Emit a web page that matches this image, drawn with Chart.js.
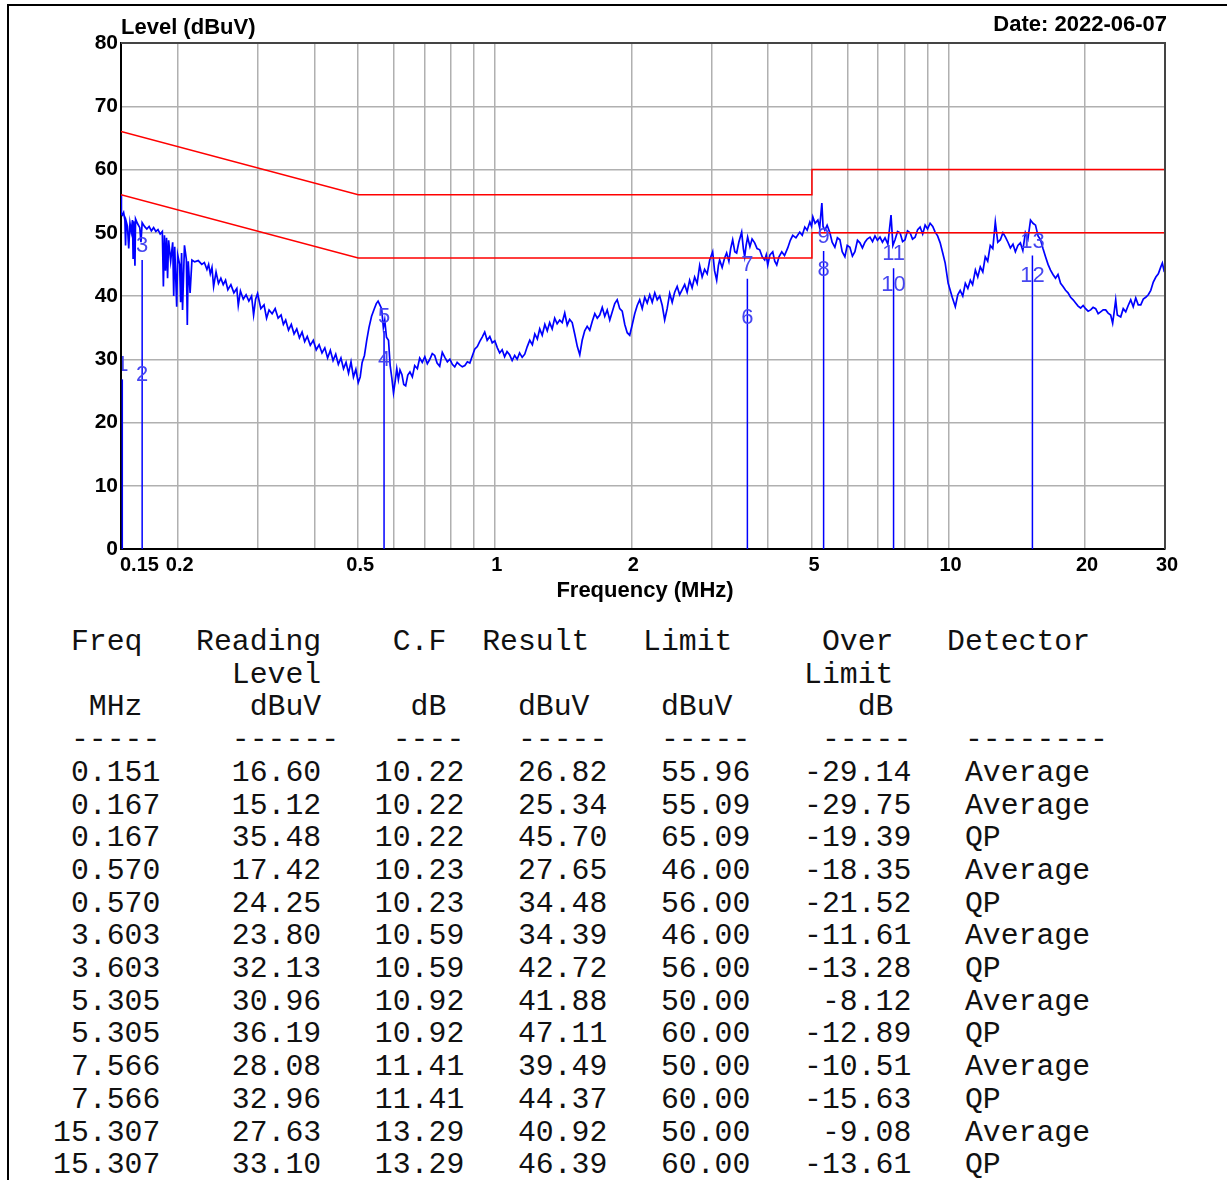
<!DOCTYPE html>
<html>
<head>
<meta charset="utf-8">
<script src="https://cdn.jsdelivr.net/npm/chart.js"></script>
<style>
  body { margin: 0; background: #fff; width: 1227px; height: 1180px; overflow: hidden; position: relative; }
  #frame { position: absolute; left: 7px; top: 4px; width: 1230px; height: 1190px; border-left: 2px solid #000; border-top: 2px solid #000; }
  #c { position: absolute; left: 0; top: 0; }
  #table { position: absolute; left: 53px; top: 626px; margin: 0; font-family: "Courier New", "Liberation Mono", monospace; font-size: 29.8px; line-height: 32.7px; color: #111; }
</style>
</head>
<body>
<div id="frame"></div>
<canvas id="c" width="1227" height="620"></canvas>
<pre id="table"></pre>
<script>
// scan trace (MHz / dBuV)
const traceFreq = [
  0.150,0.1503,0.151,0.152,0.153,0.1535,0.154,0.155,0.156,0.157,
  0.158,0.159,0.1595,0.160,0.161,0.1615,0.163,0.165,0.166,0.167,
  0.169,0.171,0.173,0.175,0.177,0.179,0.181,0.183,0.185,0.186,
  0.187,0.188,0.189,0.190,0.191,0.193,0.195,0.196,0.197,0.199,
  0.200,0.202,0.203,0.204,0.205,0.207,0.209,0.210,0.211,0.213,
  0.215,0.218,0.222,0.226,0.229,0.232,0.234,0.236,0.238,0.240,
  0.243,0.246,0.249,0.252,0.255,0.258,0.262,0.266,0.270,0.272,
  0.275,0.279,0.283,0.287,0.291,0.294,0.297,0.300,0.305,0.310,
  0.314,0.318,0.323,0.328,0.333,0.338,0.342,0.346,0.351,0.356,
  0.361,0.366,0.371,0.376,0.381,0.386,0.392,0.398,0.404,0.410,
  0.416,0.422,0.428,0.434,0.440,0.446,0.452,0.458,0.464,0.470,
  0.476,0.482,0.488,0.494,0.500,0.505,0.510,0.516,0.522,0.528,
  0.535,0.542,0.548,0.553,0.558,0.563,0.568,0.572,0.577,0.583,
  0.588,0.593,0.598,0.603,0.608,0.613,0.618,0.624,0.630,0.636,
  0.643,0.650,0.658,0.666,0.675,0.683,0.692,0.701,0.710,0.719,
  0.728,0.737,0.746,0.756,0.766,0.776,0.786,0.796,0.806,0.816,
  0.826,0.837,0.848,0.859,0.870,0.881,0.892,0.903,0.915,0.926,
  0.938,0.950,0.962,0.975,0.987,1.000,1.013,1.025,1.038,1.051,
  1.064,1.078,1.092,1.106,1.120,1.134,1.149,1.164,1.179,1.194,
  1.210,1.225,1.241,1.256,1.272,1.289,1.305,1.321,1.338,1.355,
  1.372,1.390,1.408,1.426,1.444,1.462,1.481,1.500,1.520,1.539,
  1.558,1.578,1.598,1.619,1.640,1.661,1.682,1.703,1.725,1.747,
  1.769,1.792,1.815,1.838,1.861,1.885,1.909,1.934,1.958,1.983,
  2.009,2.034,2.060,2.086,2.113,2.140,2.167,2.195,2.223,2.252,
  2.280,2.309,2.339,2.368,2.398,2.429,2.460,2.491,2.523,2.555,
  2.588,2.621,2.654,2.688,2.722,2.757,2.792,2.828,2.864,2.900,
  2.938,2.976,3.021,3.050,3.083,3.110,3.130,3.170,3.210,3.243,
  3.280,3.310,3.344,3.380,3.412,3.450,3.500,3.530,3.554,3.580,
  3.608,3.650,3.690,3.739,3.785,3.835,3.885,3.934,3.965,3.995,
  4.040,4.098,4.140,4.182,4.230,4.290,4.350,4.422,4.480,4.536,
  4.610,4.700,4.760,4.822,4.880,4.947,4.990,5.023,5.080,5.152,
  5.200,5.258,5.290,5.339,5.400,5.476,5.540,5.617,5.690,5.762,
  5.830,5.910,5.980,6.062,6.140,6.218,6.300,6.379,6.460,6.543,
  6.620,6.712,6.800,6.885,6.970,7.062,7.150,7.245,7.350,7.469,
  7.540,7.622,7.720,7.819,7.920,8.020,8.120,8.227,8.330,8.439,
  8.550,8.657,8.770,8.880,8.990,9.109,9.230,9.344,9.460,9.585,
  9.710,9.832,9.982,10.19,10.35,10.48,10.61,10.75,10.89,11.03,
  11.17,11.30,11.46,11.60,11.75,11.90,12.05,12.20,12.36,12.52,
  12.68,12.84,13.01,13.18,13.35,13.52,13.69,13.87,14.04,14.22,
  14.40,14.58,14.77,14.96,15.16,15.35,15.55,15.75,15.95,16.15,
  16.36,16.57,16.78,16.99,17.21,17.43,17.66,17.88,18.11,18.34,
  18.58,18.82,19.06,19.30,19.55,19.80,20.05,20.31,20.57,20.83,
  21.10,21.37,21.64,21.92,22.20,22.48,22.77,23.00,23.18,23.36,
  23.55,23.96,24.27,24.58,24.89,25.21,25.53,25.86,26.19,26.53,
  26.87,27.21,27.56,27.91,28.27,28.64,29.00,29.37,29.60,29.90
];
const traceLevel = [
  56.0,53.0,52.8,53.2,52.0,48.0,51.8,51.0,47.5,51.5,
  50.2,52.0,46.0,51.8,44.8,52.2,51.5,50.8,48.5,51.6,
  51.0,50.6,51.0,50.3,50.8,50.2,50.5,49.8,50.2,41.5,
  49.6,44.0,49.2,42.8,48.8,45.5,48.5,40.0,47.8,38.3,
  46.5,45.0,39.0,46.8,37.8,48.0,45.8,35.4,45.5,40.5,
  45.7,45.4,45.6,45.0,45.3,44.2,45.0,43.5,44.5,41.5,
  43.8,42.0,42.8,41.8,42.5,41.0,41.8,40.5,41.2,38.5,
  40.8,39.5,40.2,39.2,40.0,37.0,39.5,40.4,38.0,38.6,
  36.5,37.8,37.2,38.0,36.5,37.0,35.5,36.2,34.6,35.5,
  34.0,34.8,33.4,34.3,32.8,33.6,32.2,33.0,31.5,32.3,
  31.0,31.8,30.2,31.4,29.8,30.8,29.2,30.2,28.5,29.5,
  27.8,29.6,27.2,28.4,26.3,27.2,29.5,30.6,33.0,35.0,
  36.8,37.9,38.8,39.2,38.6,38.0,35.0,36.2,33.5,33.0,
  29.0,27.0,24.7,26.5,28.5,26.8,28.3,27.6,26.0,25.8,
  27.5,28.0,27.2,29.0,28.5,30.2,29.5,30.4,29.3,30.0,
  30.9,30.6,29.4,28.9,31.1,30.3,29.6,30.0,29.2,28.8,
  29.5,29.1,28.8,29.0,29.6,29.4,30.5,31.6,32.0,32.8,
  33.5,34.3,33.0,33.6,32.6,32.9,31.8,31.0,31.5,30.4,
  31.2,30.7,29.8,30.6,30.0,31.0,30.3,30.8,32.0,33.0,
  32.3,34.0,33.2,34.8,33.8,35.5,34.5,35.8,34.8,36.5,
  35.6,36.2,35.8,37.3,35.4,36.3,35.8,34.0,32.0,30.7,
  33.0,34.5,35.2,34.6,36.0,37.2,36.5,37.0,38.2,36.8,
  37.8,36.2,37.5,38.8,39.4,38.0,37.6,35.5,34.2,33.8,
  35.5,37.2,38.5,39.4,38.0,39.8,38.9,40.2,39.0,40.5,
  39.4,40.0,38.5,36.2,38.0,40.4,39.0,40.6,41.5,40.2,
  41.0,41.8,40.6,42.5,41.3,43.0,42.0,44.8,43.0,44.2,
  43.5,45.7,47.0,44.0,42.5,44.8,45.7,44.5,46.0,46.8,
  45.5,47.5,48.9,47.0,46.8,48.5,50.1,47.5,46.2,48.0,
  49.3,47.8,49.0,48.4,47.5,47.3,46.2,45.7,46.5,44.9,
  46.5,47.0,45.5,44.9,46.2,47.0,46.4,47.6,48.8,49.6,
  49.2,50.1,49.6,50.9,50.4,51.7,51.0,52.5,51.5,52.0,
  50.8,54.7,51.0,50.4,51.2,50.0,48.5,47.7,49.2,48.9,
  47.0,46.2,48.0,47.7,46.3,47.0,48.8,48.4,47.6,48.5,
  49.0,49.3,48.6,49.5,48.8,49.3,48.5,49.2,48.2,52.8,
  48.0,48.9,50.2,50.0,48.6,48.9,50.3,50.0,49.0,49.3,
  50.5,50.9,49.8,51.2,50.6,51.5,51.0,50.1,49.5,48.4,
  46.8,45.2,42.0,39.8,38.3,40.2,40.9,40.0,42.0,41.2,
  42.5,41.8,44.1,43.0,44.6,43.8,46.2,45.5,48.0,47.5,
  51.7,48.5,48.9,50.0,49.3,48.5,47.6,48.2,47.0,48.0,
  48.4,47.2,50.0,49.0,52.0,51.5,51.2,49.5,48.9,47.5,
  46.2,45.0,44.1,43.4,42.8,43.4,42.0,41.5,40.9,40.5,
  39.8,39.4,38.9,38.4,38.1,38.5,38.0,37.6,37.8,38.2,
  38.0,37.2,37.5,37.8,37.8,37.3,37.0,35.7,37.5,39.4,
  37.0,36.7,38.0,37.5,38.5,39.4,38.3,39.7,38.6,38.6,
  39.5,39.8,40.2,40.9,42.2,43.0,43.5,44.6,45.2,43.8
];

// limit lines (QP upper, Average lower)
const limitFreq = [0.15, 0.5, 5, 5, 30];
const limitQP   = [66, 56, 56, 60, 60];
const limitAvg  = [56, 46, 46, 50, 50];

// final measurement table
const tableFreq     = [0.151, 0.167, 0.167, 0.570, 0.570, 3.603, 3.603, 5.305, 5.305, 7.566, 7.566, 15.307, 15.307];
const tableReading  = [16.60, 15.12, 35.48, 17.42, 24.25, 23.80, 32.13, 30.96, 36.19, 28.08, 32.96, 27.63, 33.10];
const tableCF       = [10.22, 10.22, 10.22, 10.23, 10.23, 10.59, 10.59, 10.92, 10.92, 11.41, 11.41, 13.29, 13.29];
const tableResult   = [26.82, 25.34, 45.70, 27.65, 34.48, 34.39, 42.72, 41.88, 47.11, 39.49, 44.37, 40.92, 46.39];
const tableLimit    = [55.96, 55.09, 65.09, 46.00, 56.00, 46.00, 56.00, 50.00, 60.00, 50.00, 60.00, 50.00, 60.00];
const tableOver     = [-29.14, -29.75, -19.39, -18.35, -21.52, -11.61, -13.28, -8.12, -12.89, -10.51, -15.63, -9.08, -13.61];
const tableDetector = ['Average', 'Average', 'QP', 'Average', 'QP', 'Average', 'QP', 'Average', 'QP', 'Average', 'QP', 'Average', 'QP'];

const xGrid   = [0.2, 0.3, 0.4, 0.5, 0.6, 0.7, 0.8, 0.9, 1, 2, 3, 4, 5, 6, 7, 8, 9, 10, 20];
const xLabels = [0.15, 0.2, 0.5, 1, 2, 5, 10, 20, 30];

const SANS = '"Liberation Sans", Arial, sans-serif';

// vertical marker lines, one per measured frequency, up to the highest result
const markerTop = {};
tableFreq.forEach((f, i) => { markerTop[f] = Math.max(markerTop[f] || 0, tableResult[i]); });
const markerSets = Object.keys(markerTop).map(f => ({
  data: [{x: +f, y: 0}, {x: +f, y: markerTop[f]}],
  borderColor: '#0000ff', borderWidth: 1.5, pointRadius: 0, showLine: true
}));

const pairs = (xs, ys) => xs.map((v, i) => ({x: v, y: ys[i]}));

const extras = {
  id: 'extras',
  afterDatasetsDraw(chart) {
    const {ctx, chartArea: a, scales: {x, y}} = chart;
    ctx.save();
    ctx.strokeStyle = '#444';
    ctx.lineWidth = 2;
    ctx.beginPath();
    ctx.moveTo(a.left, a.top); ctx.lineTo(a.right, a.top); ctx.lineTo(a.right, a.bottom);
    ctx.stroke();

    // marker numbers
    ctx.save();
    ctx.beginPath();
    ctx.rect(a.left + 1, a.top, a.right - a.left, a.bottom - a.top);
    ctx.clip();
    ctx.font = '22px ' + SANS;
    ctx.fillStyle = '#4646f0';
    ctx.textAlign = 'center';
    ctx.textBaseline = 'middle';
    tableFreq.forEach((f, i) => {
      ctx.fillText(String(i + 1), x.getPixelForValue(f), y.getPixelForValue(tableResult[i]) - 14);
    });
    ctx.restore();

    ctx.fillStyle = '#000';
    ctx.font = 'bold 20px ' + SANS;
    ctx.textBaseline = 'middle';
    xLabels.forEach((v, i) => {
      ctx.textAlign = i === 0 ? 'left' : 'center';
      ctx.fillText(String(v), x.getPixelForValue(v) + (i === 0 ? -1 : 2), a.bottom + 16);
    });

    ctx.font = 'bold 22px ' + SANS;
    ctx.textAlign = 'left';
    ctx.fillText('Level (dBuV)', a.left, 28);
    ctx.textAlign = 'right';
    ctx.fillText('Date: 2022-06-07', 1167, 25);
    ctx.textAlign = 'center';
    ctx.fillText('Frequency (MHz)', 645, 591);
    ctx.restore();
  }
};

new Chart(document.getElementById('c'), {
  type: 'scatter',
  data: {
    datasets: [
      {data: pairs(limitFreq, limitQP), borderColor: '#ff0000', borderWidth: 1.5, pointRadius: 0, showLine: true},
      {data: pairs(limitFreq, limitAvg), borderColor: '#ff0000', borderWidth: 1.5, pointRadius: 0, showLine: true},
      {data: pairs(traceFreq, traceLevel), borderColor: '#0000ff', borderWidth: 1.7, pointRadius: 0, showLine: true},
      ...markerSets
    ]
  },
  options: {
    responsive: false,
    animation: false,
    devicePixelRatio: 1,
    layout: {padding: {left: 0, top: 43, right: 62, bottom: 0}},
    plugins: {legend: {display: false}, tooltip: {enabled: false}},
    scales: {
      x: {
        type: 'logarithmic',
        min: 0.15, max: 30,
        afterBuildTicks: s => { s.ticks = xGrid.map(v => ({value: v})); },
        afterFit: s => { s.height = 71; },
        ticks: {display: false},
        grid: {color: '#b0b0b0', lineWidth: 1.5, drawTicks: false},
        border: {display: true, color: '#000', width: 2}
      },
      y: {
        min: 0, max: 80,
        afterFit: s => { s.width = 121; },
        ticks: {stepSize: 10, color: '#000', font: {family: SANS, size: 21, weight: 'bold'}, padding: 3},
        grid: {color: '#b0b0b0', lineWidth: 1.5, drawTicks: false},
        border: {display: true, color: '#000', width: 2}
      }
    }
  },
  plugins: [extras]
});

// measurement table as monospaced text
const pad = (s, n) => String(s).padStart(n);
const lines = [
  ' Freq   Reading    C.F  Result   Limit     Over   Detector',
  '          Level                           Limit',
  '  MHz      dBuV     dB    dBuV    dBuV       dB',
  ' -----    ------   ----   -----   -----    -----   --------'
];
tableFreq.forEach((f, i) => {
  lines.push(pad(f.toFixed(3), 6) + pad(tableReading[i].toFixed(2), 9) + pad(tableCF[i].toFixed(2), 8) +
    pad(tableResult[i].toFixed(2), 8) + pad(tableLimit[i].toFixed(2), 8) + pad(tableOver[i].toFixed(2), 9) +
    '   ' + tableDetector[i]);
});
document.getElementById('table').textContent = lines.join('\n');
</script>
</body>
</html>
